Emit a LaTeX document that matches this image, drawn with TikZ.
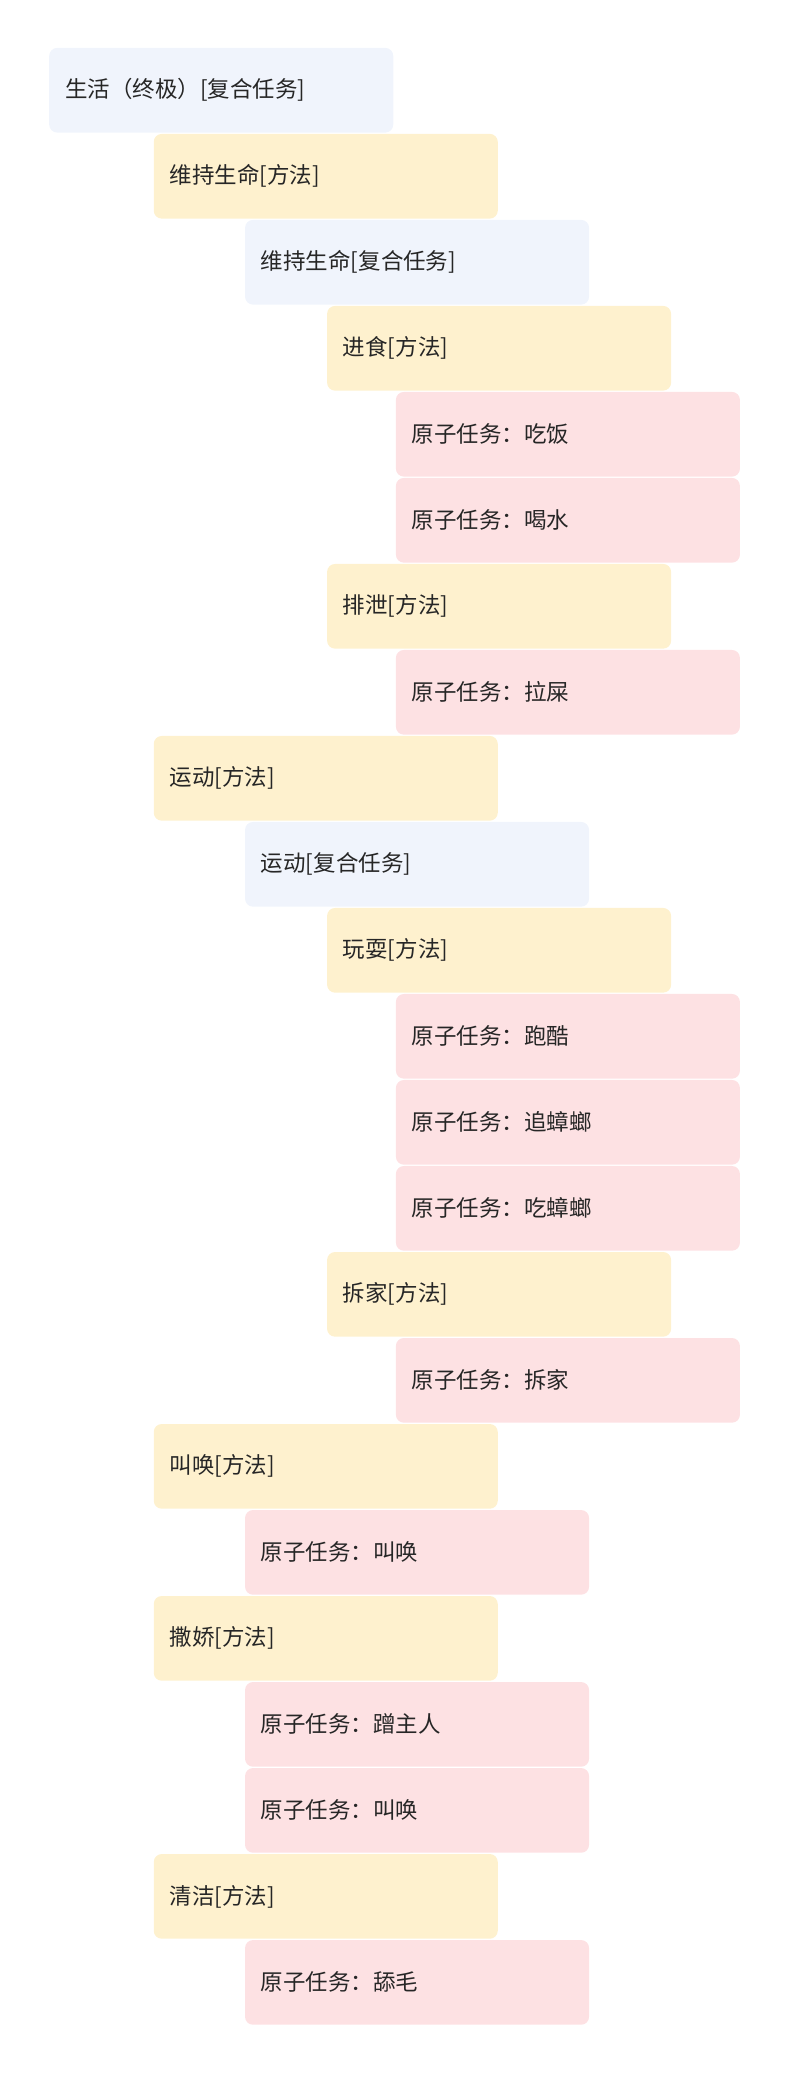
\documentclass[tikz,border=0pt]{standalone}
\usepackage{fontspec}
\setmainfont{Noto Sans CJK SC}
\definecolor{taskblue}{HTML}{F0F4FC}
\definecolor{methodyellow}{HTML}{FEF1CE}
\definecolor{atompink}{HTML}{FDE1E3}
\definecolor{inktext}{HTML}{262626}
\begin{document}
\begin{tikzpicture}[x=1pt, y=1pt, every node/.style={anchor=north west, rounded corners=6pt, text width=236pt, inner xsep=12pt, inner ysep=0pt, minimum height=64pt, align=left, text=inktext, font=\fontsize{17}{20}\selectfont}, compound/.style={fill=taskblue}, method/.style={fill=methodyellow}, atom/.style={fill=atompink}]
    \useasboundingbox (0,0) rectangle (600,-1575);
        
        % Rows: level x / style / text.
        \foreach \lx/\kind/\txt [count=\i from 0] in {
            37/compound/生活（终极）[复合任务],
            116/method/维持生命[方法],
            185/compound/维持生命[复合任务],
            247/method/进食[方法],
            299/atom/原子任务：吃饭,
            299/atom/原子任务：喝水,
            247/method/排泄[方法],
            299/atom/原子任务：拉屎,
            116/method/运动[方法],
            185/compound/运动[复合任务],
            247/method/玩耍[方法],
            299/atom/原子任务：跑酷,
            299/atom/原子任务：追蟑螂,
            299/atom/原子任务：吃蟑螂,
            247/method/拆家[方法],
            299/atom/原子任务：拆家,
            116/method/叫唤[方法],
            185/atom/原子任务：叫唤,
            116/method/撒娇[方法],
            185/atom/原子任务：蹭主人,
            185/atom/原子任务：叫唤,
            116/method/清洁[方法],
            185/atom/原子任务：舔毛}
            \node[\kind] (row-\i) at (\lx,-36-65*\i) {\txt};
        
    \end{tikzpicture}
\end{document}
